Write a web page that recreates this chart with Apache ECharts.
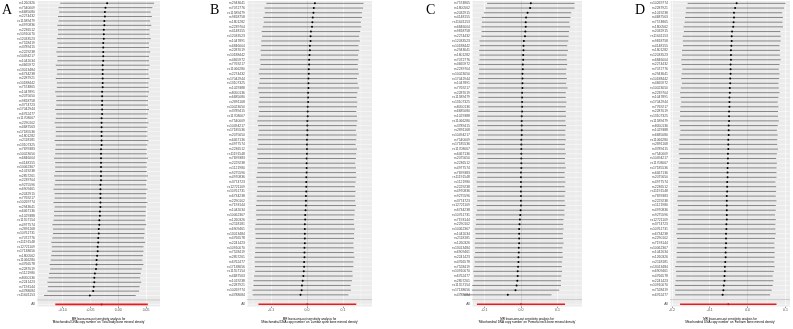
<!DOCTYPE html>
<html>
<head>
<meta charset="utf-8">
<title>MR leave-one-out sensitivity analysis</title>
<script src="https://cdn.jsdelivr.net/npm/echarts@6/dist/echarts.min.js"></script>
<style>
  html, body { margin: 0; padding: 0; background: #fff; }
  #main { width: 793px; height: 329px; }
</style>
</head>
<body>
<div id="main"></div>
<script>
// exposure / outcomes of the four panels
const exposure = 'Mitochondrial DNA copy number'
const outcomes = [
  'Total body bone mineral density',
  'Lumbar spine bone mineral density',
  'Femoral neck bone mineral density',
  'Forearm bone mineral density'
]
const letters = ['A', 'B', 'C', 'D']

// panel A (top -> bottom, sorted by estimate)
const snpsA = `
rs1260326 rs7540009 rs6685080 rs2274432 rs11589479 rs4970836 rs2236512 rs10910070 rs12033523 rs7528419
rs3789415 rs2229238 rs10494217 rs1042034 rs4665972 rs13013484 rs6734238 rs2287921 rs10188442 rs7574865
rs1047891 rs2075650 rs9818758 rs3774723 rs17042944 rs6762477 rs11708067 rs2290102 rs4687563 rs17185536
rs1801282 rs2118181 rs13107325 rs7699383 rs10023050 rs6846004 rs4148155 rs10062367 rs1019238 rs2857261
rs2239704 rs9275596 rs6909461 rs2032915 rs7769217 rs10269774 rs2943641 rs6467136 rs1029388 rs11557154
rs4977574 rs2891168 rs10761731 rs7072776 rs11191548 rs12721109 rs17138656 rs1800562 rs11066280 rs4766578
rs2287019 rs1121980 rs8050136 rs2241423 rs7193144 rs4788084 rs11641153`.trim().split(/\s+/)
const bA = [
  -0.020, -0.023, -0.024, -0.024, -0.025, -0.025, -0.026, -0.026, -0.026, -0.027,
  -0.027, -0.027, -0.027, -0.027, -0.028, -0.028, -0.028, -0.028, -0.028, -0.028,
  -0.029, -0.029, -0.029, -0.029, -0.029, -0.029, -0.030, -0.030, -0.030, -0.030,
  -0.030, -0.030, -0.030, -0.031, -0.031, -0.031, -0.031, -0.031, -0.031, -0.031,
  -0.031, -0.032, -0.032, -0.032, -0.032, -0.032, -0.032, -0.033, -0.033, -0.034,
  -0.034, -0.035, -0.035, -0.036, -0.036, -0.037, -0.037, -0.038, -0.039, -0.039,
  -0.040, -0.042, -0.043, -0.043, -0.044, -0.045, -0.051
]
const seA = [
  0.043, 0.043, 0.042, 0.043, 0.042, 0.043, 0.042, 0.042, 0.043, 0.042,
  0.042, 0.043, 0.042, 0.042, 0.043, 0.042, 0.042, 0.043, 0.042, 0.042,
  0.043, 0.042, 0.042, 0.042, 0.043, 0.042, 0.042, 0.043, 0.042, 0.042,
  0.042, 0.043, 0.042, 0.042, 0.042, 0.043, 0.042, 0.042, 0.042, 0.043,
  0.042, 0.042, 0.043, 0.042, 0.042, 0.043, 0.042, 0.042, 0.042, 0.042,
  0.043, 0.042, 0.042, 0.042, 0.043, 0.042, 0.042, 0.042, 0.042, 0.043,
  0.042, 0.042, 0.042, 0.043, 0.042, 0.042, 0.042
]
const allA = [-0.030, 0.0424]

// panel B
const snpsB = `
rs2943641 rs7072776 rs11589479 rs9818758 rs1801282 rs2239704 rs4148155 rs12033523 rs1047891 rs6846004
rs2287019 rs10188442 rs4665972 rs7769217 rs11066280 rs2274432 rs17042944 rs13107325 rs1029388 rs8050136
rs6685080 rs2891168 rs10023050 rs3789415 rs11708067 rs7540009 rs10494217 rs17185536 rs2075650 rs6467136
rs4977574 rs2236512 rs11191548 rs7699383 rs2229238 rs1121980 rs9275596 rs4970836 rs3774723 rs12721109
rs10761731 rs6734238 rs2290102 rs7193144 rs1042034 rs10062367 rs1260326 rs2118181 rs6909461 rs13013484
rs4766578 rs2241423 rs10910070 rs7528419 rs2857261 rs6762477 rs17138656 rs11557154 rs4687563 rs1019238
rs2287921 rs10269774 rs4788084`.trim().split(/\s+/)
const bB = [
  0.022, 0.019, 0.018, 0.016, 0.015, 0.014, 0.011, 0.010, 0.010, 0.008,
  0.008, 0.007, 0.006, 0.006, 0.005, 0.005, 0.004, 0.004, 0.004, 0.003,
  0.003, 0.003, 0.002, 0.002, 0.002, 0.001, 0.001, 0.001, 0.001, 0.000,
  0.000, 0.000, 0.000, -0.001, -0.001, -0.001, -0.001, -0.002, -0.002, -0.002,
  -0.002, -0.003, -0.003, -0.003, -0.004, -0.005, -0.005, -0.006, -0.006, -0.006,
  -0.006, -0.006, -0.007, -0.007, -0.007, -0.008, -0.008, -0.009, -0.010, -0.012,
  -0.014, -0.015, -0.018
]
const seB = [
  0.069, 0.070, 0.069, 0.070, 0.069, 0.070, 0.070, 0.069, 0.070, 0.069,
  0.070, 0.069, 0.070, 0.069, 0.070, 0.071, 0.069, 0.070, 0.072, 0.070,
  0.069, 0.070, 0.070, 0.069, 0.070, 0.071, 0.070, 0.069, 0.070, 0.070,
  0.069, 0.071, 0.070, 0.070, 0.069, 0.070, 0.070, 0.071, 0.070, 0.069,
  0.070, 0.070, 0.070, 0.071, 0.070, 0.070, 0.069, 0.070, 0.071, 0.070,
  0.070, 0.069, 0.070, 0.070, 0.071, 0.070, 0.070, 0.069, 0.070, 0.070,
  0.069, 0.070, 0.068
]
const allB = [0.001, 0.0695]

// panel C
const snpsC = `
rs7574865 rs1800562 rs2032915 rs4148155 rs11641153 rs6846004 rs9818758 rs2274432 rs12033523 rs10188442
rs2943641 rs1801282 rs7072776 rs4665972 rs2239704 rs10023050 rs17042944 rs1047891 rs7769217 rs2287019
rs11589479 rs13107325 rs8050136 rs6685080 rs1029388 rs11066280 rs3789415 rs2891168 rs10494217 rs7540009
rs17185536 rs11708067 rs6467136 rs2075650 rs2236512 rs4977574 rs7699383 rs11191548 rs1121980 rs2229238
rs4970836 rs9275596 rs3774723 rs12721109 rs6734238 rs10761731 rs7193144 rs2290102 rs10062367 rs1042034
rs2118181 rs1260326 rs13013484 rs6909461 rs2241423 rs4766578 rs7528419 rs10910070 rs6762477 rs2857261
rs11557154 rs17138656 rs4788084`.trim().split(/\s+/)
const bC = [
  0.027, 0.025, 0.018, 0.014, 0.013, 0.013, 0.012, 0.011, 0.008, 0.007,
  0.007, 0.006, 0.006, 0.005, 0.005, 0.004, 0.004, 0.004, 0.004, 0.003,
  0.003, 0.003, 0.003, 0.003, 0.002, 0.002, 0.002, 0.002, 0.002, 0.001,
  0.001, 0.001, 0.001, 0.001, 0.001, 0.001, 0.000, 0.000, 0.000, 0.000,
  0.000, 0.000, 0.000, 0.000, -0.001, -0.002, -0.003, -0.004, -0.005, -0.005,
  -0.005, -0.005, -0.006, -0.006, -0.007, -0.007, -0.008, -0.009, -0.009, -0.010,
  -0.012, -0.015, -0.036
]
const seC = [
  0.061, 0.062, 0.061, 0.062, 0.061, 0.062, 0.061, 0.061, 0.062, 0.061,
  0.062, 0.061, 0.061, 0.062, 0.061, 0.061, 0.062, 0.061, 0.063, 0.061,
  0.061, 0.062, 0.061, 0.061, 0.062, 0.061, 0.062, 0.061, 0.061, 0.062,
  0.061, 0.061, 0.062, 0.061, 0.061, 0.062, 0.061, 0.061, 0.062, 0.061,
  0.062, 0.061, 0.061, 0.062, 0.061, 0.062, 0.061, 0.061, 0.062, 0.061,
  0.061, 0.062, 0.061, 0.061, 0.062, 0.061, 0.061, 0.062, 0.061, 0.061,
  0.062, 0.061, 0.061
]
const allC = [0.000, 0.0615]

// panel D
const snpsD = `
rs10269774 rs2287921 rs1019238 rs4687563 rs7574865 rs1800562 rs2032915 rs11641153 rs9818758 rs4148155
rs1801282 rs12033523 rs6846004 rs2274432 rs7072776 rs2943641 rs10188442 rs4665972 rs10023050 rs2239704
rs1047891 rs17042944 rs7769217 rs2287019 rs13107325 rs11589479 rs8050136 rs1029388 rs6685080 rs11066280
rs2891168 rs3789415 rs7540009 rs10494217 rs11708067 rs17185536 rs6467136 rs2075650 rs4977574 rs2236512
rs11191548 rs7699383 rs2229238 rs1121980 rs4970836 rs9275596 rs12721109 rs3774723 rs10761731 rs6734238
rs2290102 rs7193144 rs10062367 rs1042034 rs1260326 rs2118181 rs13013484 rs6909461 rs4766578 rs2241423
rs10910070 rs7528419 rs6762477`.trim().split(/\s+/)
const bD = [
  -0.029, -0.033, -0.036, -0.036, -0.037, -0.038, -0.041, -0.042, -0.042, -0.043,
  -0.044, -0.044, -0.044, -0.045, -0.045, -0.045, -0.046, -0.046, -0.047, -0.047,
  -0.048, -0.048, -0.048, -0.049, -0.049, -0.049, -0.050, -0.050, -0.050, -0.051,
  -0.051, -0.051, -0.052, -0.052, -0.052, -0.053, -0.053, -0.053, -0.054, -0.054,
  -0.054, -0.055, -0.055, -0.055, -0.055, -0.055, -0.055, -0.056, -0.056, -0.057,
  -0.057, -0.057, -0.058, -0.058, -0.058, -0.059, -0.060, -0.060, -0.061, -0.061,
  -0.063, -0.064, -0.066
]
const seD = [
  0.066, 0.066, 0.065, 0.066, 0.066, 0.067, 0.065, 0.066, 0.066, 0.065,
  0.066, 0.066, 0.067, 0.066, 0.065, 0.066, 0.066, 0.065, 0.066, 0.067,
  0.066, 0.065, 0.066, 0.066, 0.066, 0.067, 0.066, 0.065, 0.066, 0.066,
  0.066, 0.067, 0.066, 0.065, 0.066, 0.066, 0.066, 0.066, 0.065, 0.066,
  0.066, 0.066, 0.067, 0.066, 0.066, 0.065, 0.066, 0.066, 0.066, 0.067,
  0.066, 0.065, 0.066, 0.066, 0.066, 0.066, 0.067, 0.066, 0.065, 0.066,
  0.066, 0.065, 0.064
]
const allD = [-0.051, 0.065]

const panels = [
  { snps: snpsA, b: bA, se: seA, all: allA },
  { snps: snpsB, b: bB, se: seB, all: allB },
  { snps: snpsC, b: bC, se: seC, all: allC },
  { snps: snpsD, b: bD, se: seD, all: allD }
]

// placement of each panel on the page
const layout = [
  { left: 37, width: 123, min: -0.146, max: 0.075, splitNumber: 4, digits: 2, letterX: 2 },
  { left: 247, width: 125, min: -0.167, max: 0.181, splitNumber: 3, digits: 1, letterX: 210 },
  { left: 472, width: 110, min: -0.134, max: 0.167, splitNumber: 3, digits: 1, letterX: 426 },
  { left: 670, width: 120, min: -0.205, max: 0.112, splitNumber: 3, digits: 1, letterX: 635 }
]

const textGrey = '#4d4d4d'
const font = 'Liberation Sans'

// white row gridline (grey for the empty separator row)
function renderRowLine(params, api) {
  const y = api.coord([0, api.value(1)])[1]
  const cs = params.coordSys
  const sep = api.value(2) === 1
  return {
    type: 'line',
    shape: { x1: cs.x, y1: y, x2: cs.x + cs.width, y2: y },
    style: { stroke: sep ? '#bebebe' : '#ffffff', lineWidth: sep ? 0.7 : 0.5 }
  }
}

// horizontal CI bar + point estimate
function renderEstimate(params, api) {
  const row = api.value(0)
  const isAll = api.value(4) === 1
  const p = api.coord([api.value(1), row])
  const lo = api.coord([api.value(2), row])
  const hi = api.coord([api.value(3), row])
  return {
    type: 'group',
    children: [
      {
        type: 'line',
        shape: { x1: lo[0], y1: p[1], x2: hi[0], y2: p[1] },
        style: { stroke: isAll ? '#f01818' : '#3a3a3a', lineWidth: isAll ? 1.6 : 0.6 }
      },
      {
        type: 'circle',
        shape: { cx: p[0], cy: p[1], r: 1 },
        style: { fill: isAll ? '#e00000' : '#000000' }
      }
    ]
  }
}

const grids = []
const xAxes = []
const yAxes = []
const series = []
const graphics = []

panels.forEach((pn, k) => {
  const L = layout[k]
  const cats = pn.snps.concat(['', 'All'])
  grids.push({
    left: L.left, width: L.width, top: 1, height: 315,
    show: true, backgroundColor: '#ebebeb', borderWidth: 0
  })
  xAxes.push({
    type: 'value', gridIndex: k, min: L.min, max: L.max, splitNumber: L.splitNumber,
    axisLine: { show: false },
    axisTick: { show: true, length: 1.5, lineStyle: { color: '#333', width: 0.5 } },
    axisLabel: {
      fontSize: 3.5, color: textGrey, fontFamily: font, margin: 1.5,
      showMinLabel: false, showMaxLabel: false,
      formatter: v => v.toFixed(L.digits)
    },
    splitLine: { show: true, lineStyle: { color: '#ffffff', width: 0.6 } },
    minorTick: { show: false, splitNumber: 2 },
    minorSplitLine: { show: true, lineStyle: { color: '#ffffff', width: 0.3 } },
    name: 'MR leave-one-out sensitivity analysis for\n\'' + exposure + '\' on \'' + outcomes[k] + '\'',
    nameLocation: 'middle', nameGap: 4,
    nameTextStyle: { fontSize: 3, lineHeight: 3.5, color: '#000', fontFamily: font }
  })
  yAxes.push({
    type: 'category', gridIndex: k, data: cats, inverse: true,
    axisLine: { show: false }, axisTick: { show: false },
    axisLabel: { interval: 0, fontSize: 3.4, color: textGrey, fontFamily: font, margin: 2 },
    splitLine: { show: false }
  })
  series.push({
    type: 'custom', xAxisIndex: k, yAxisIndex: k, silent: true, z: 1,
    renderItem: renderRowLine,
    encode: { x: 0, y: 1 },
    data: cats.map((c, i) => [0, i, i === cats.length - 2 ? 1 : 0])
  })
  const est = pn.snps.map((s, i) => [i, pn.b[i], pn.b[i] - 1.96 * pn.se[i], pn.b[i] + 1.96 * pn.se[i], 0])
  const a = pn.all
  est.push([cats.length - 1, a[0], a[0] - 1.96 * a[1], a[0] + 1.96 * a[1], 1])
  series.push({
    type: 'custom', xAxisIndex: k, yAxisIndex: k, silent: true, z: 3,
    renderItem: renderEstimate,
    encode: { x: [1, 2, 3], y: 0 },
    data: est,
    markLine: {
      silent: true, symbol: 'none', label: { show: false },
      lineStyle: { type: 'dotted', color: '#777', width: 0.5 },
      data: [{ xAxis: 0 }]
    }
  })
  graphics.push({
    type: 'text', left: L.letterX, top: 3,
    style: { text: letters[k], fontSize: 14, fontFamily: 'Liberation Serif', fill: '#000' }
  })
})

const myChart = echarts.init(document.getElementById('main'))
myChart.setOption({
  backgroundColor: '#ffffff',
  animation: false,
  grid: grids,
  xAxis: xAxes,
  yAxis: yAxes,
  series: series,
  graphic: graphics
})
window.addEventListener('resize', function () {
  myChart.resize()
})
</script>
</body>
</html>
